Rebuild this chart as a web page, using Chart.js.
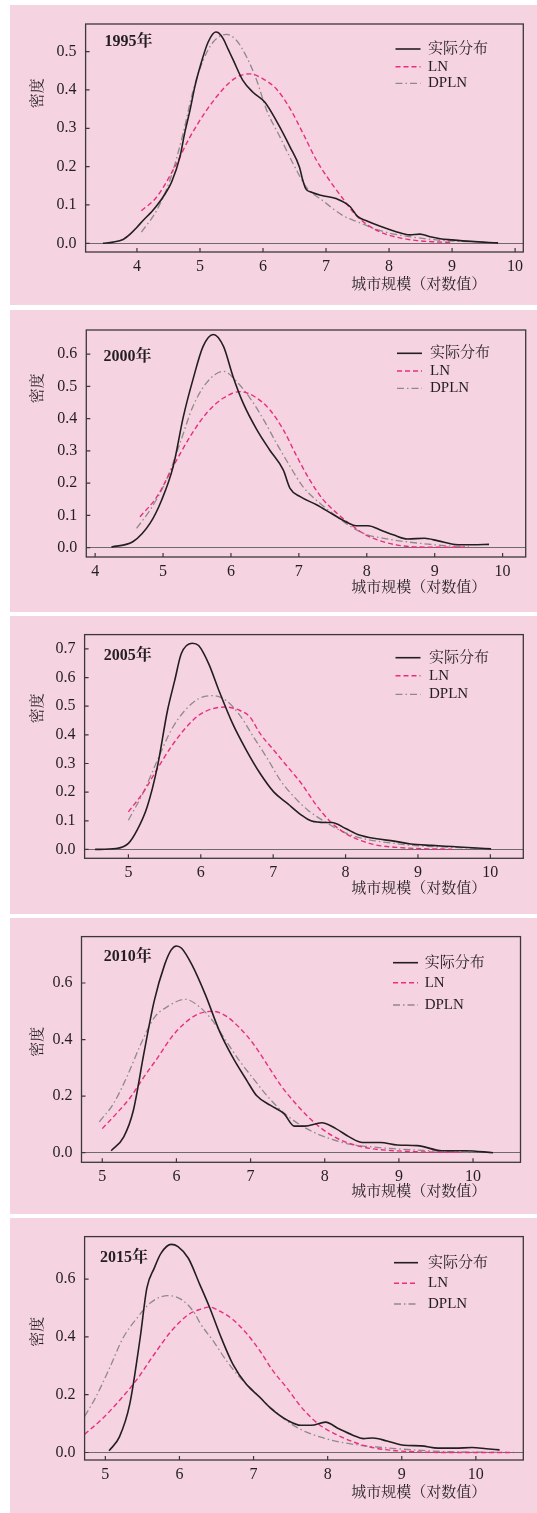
<!DOCTYPE html>
<html lang="zh">
<head>
<meta charset="UTF-8">
<title>城市规模分布</title>
<script src="https://cdn.jsdelivr.net/npm/chart.js"></script>
<style>
  html, body { margin: 0; padding: 0; background: #fff; }
  body { width: 537px; height: 1513px; position: relative; overflow: hidden; }
  .panel { position: absolute; left: 10px; width: 527px; background: #F6D3E0; }
  .panel canvas { display: block; }
</style>
</head>
<body>
<div class="panel" style="top:5px;height:300px"><canvas id="c1995" width="527" height="300"></canvas></div>
<div class="panel" style="top:310px;height:302px"><canvas id="c2000" width="527" height="302"></canvas></div>
<div class="panel" style="top:616px;height:298px"><canvas id="c2005" width="527" height="298"></canvas></div>
<div class="panel" style="top:918px;height:296px"><canvas id="c2010" width="527" height="296"></canvas></div>
<div class="panel" style="top:1218px;height:295px"><canvas id="c2015" width="527" height="295"></canvas></div>

<script>
// series names
const seriesNames = ['实际分布', 'LN', 'DPLN'];
const xTitle = '城市规模（对数值）';
const yTitle = '密度';

// [x, density]
const actual1995 = [[3.46,0],[3.62,0.003],[3.78,0.01],[3.9,0.025],[4.0,0.042],[4.1,0.06],[4.22,0.08],[4.31,0.097],[4.45,0.13],[4.55,0.16],[4.68,0.224],[4.76,0.29],[4.84,0.346],[4.92,0.41],[5.0,0.46],[5.13,0.525],[5.25,0.551],[5.3,0.548],[5.37,0.533],[5.45,0.505],[5.53,0.477],[5.68,0.425],[5.84,0.394],[6.03,0.368],[6.21,0.32],[6.43,0.251],[6.58,0.198],[6.63,0.165],[6.68,0.142],[6.77,0.133],[6.95,0.124],[7.17,0.116],[7.38,0.096],[7.5,0.07],[7.65,0.058],[7.85,0.045],[8.1,0.031],[8.33,0.022],[8.49,0.024],[8.65,0.017],[8.81,0.012],[9.0,0.009],[9.3,0.005],[9.73,0.001]];
const ln1995 = [[4.07,0.085],[4.31,0.12],[4.57,0.19],[4.84,0.277],[5.1,0.346],[5.37,0.403],[5.58,0.433],[5.79,0.442],[6.0,0.429],[6.21,0.403],[6.43,0.351],[6.64,0.285],[6.85,0.216],[7.06,0.163],[7.27,0.116],[7.47,0.074],[7.64,0.05],[7.85,0.03],[8.02,0.02],[8.24,0.012],[8.45,0.007],[8.7,0.004],[8.99,0.002]];
const dpln1995 = [[4.07,0.029],[4.31,0.085],[4.52,0.163],[4.73,0.285],[4.89,0.398],[5.05,0.477],[5.21,0.525],[5.42,0.545],[5.58,0.529],[5.74,0.486],[5.9,0.425],[6.06,0.346],[6.27,0.277],[6.48,0.207],[6.69,0.146],[6.95,0.111],[7.27,0.072],[7.53,0.054],[7.75,0.039],[8.02,0.026],[8.34,0.017],[8.67,0.01],[8.99,0.006],[9.3,0.004]];

const actual2000 = [[4.24,0.002],[4.56,0.019],[4.81,0.076],[4.98,0.148],[5.15,0.252],[5.3,0.407],[5.44,0.521],[5.59,0.624],[5.74,0.661],[5.89,0.624],[6.03,0.531],[6.18,0.448],[6.38,0.366],[6.57,0.303],[6.77,0.241],[6.87,0.184],[7.02,0.158],[7.26,0.133],[7.51,0.102],[7.73,0.076],[7.84,0.068],[8.02,0.068],[8.2,0.055],[8.4,0.039],[8.6,0.027],[8.85,0.029],[9.05,0.021],[9.3,0.01],[9.56,0.009],[9.8,0.01]];
const ln2000 = [[4.66,0.096],[4.91,0.158],[5.15,0.252],[5.4,0.345],[5.64,0.417],[5.89,0.464],[6.13,0.484],[6.38,0.464],[6.57,0.428],[6.77,0.366],[6.97,0.283],[7.16,0.21],[7.36,0.148],[7.56,0.107],[7.73,0.077],[7.99,0.039],[8.2,0.021],[8.45,0.008],[8.75,0.002],[9.5,0.001]];
const dpln2000 = [[4.61,0.06],[4.81,0.117],[5.05,0.21],[5.25,0.324],[5.44,0.438],[5.64,0.511],[5.89,0.547],[6.08,0.516],[6.28,0.464],[6.48,0.397],[6.67,0.324],[6.87,0.252],[7.06,0.189],[7.31,0.138],[7.56,0.096],[7.73,0.07],[7.99,0.041],[8.25,0.029],[8.55,0.019],[8.85,0.012],[9.15,0.006],[9.5,0.003]];

const actual2005 = [[4.54,0],[4.83,0.003],[5.0,0.021],[5.12,0.067],[5.26,0.149],[5.4,0.288],[5.54,0.485],[5.64,0.59],[5.73,0.683],[5.88,0.72],[5.97,0.712],[6.11,0.648],[6.25,0.555],[6.44,0.439],[6.63,0.346],[6.82,0.265],[7.01,0.2],[7.2,0.16],[7.39,0.12],[7.53,0.099],[7.72,0.094],[7.81,0.094],[8.0,0.073],[8.19,0.05],[8.43,0.037],[8.67,0.029],[8.9,0.019],[9.19,0.014],[9.47,0.01],[9.75,0.006],[10.01,0.002]];
const ln2005 = [[5.0,0.131],[5.21,0.201],[5.4,0.282],[5.59,0.358],[5.78,0.421],[5.97,0.468],[6.16,0.491],[6.35,0.497],[6.54,0.485],[6.68,0.462],[6.82,0.404],[7.01,0.346],[7.2,0.288],[7.39,0.23],[7.58,0.16],[7.77,0.102],[7.96,0.062],[8.19,0.033],[8.43,0.015],[8.71,0.007],[9.14,0.002],[9.47,0.001]];
const dpln2005 = [[5.0,0.102],[5.21,0.201],[5.4,0.311],[5.59,0.416],[5.78,0.485],[5.97,0.526],[6.16,0.537],[6.35,0.52],[6.54,0.468],[6.73,0.392],[6.92,0.317],[7.1,0.241],[7.29,0.183],[7.48,0.137],[7.72,0.096],[7.96,0.062],[8.19,0.041],[8.43,0.029],[8.67,0.021],[8.9,0.015],[9.19,0.01],[9.52,0.007],[9.85,0.003]];

const actual2010 = [[5.12,0.007],[5.29,0.056],[5.42,0.15],[5.56,0.349],[5.7,0.536],[5.84,0.664],[5.93,0.717],[6.0,0.731],[6.07,0.723],[6.21,0.664],[6.39,0.559],[6.58,0.43],[6.76,0.337],[6.95,0.255],[7.08,0.202],[7.27,0.167],[7.45,0.138],[7.59,0.094],[7.73,0.094],[7.96,0.106],[8.15,0.085],[8.33,0.056],[8.51,0.036],[8.75,0.036],[8.98,0.027],[9.25,0.025],[9.58,0.007],[9.9,0.007],[10.27,0]];
const ln2010 = [[5.0,0.085],[5.19,0.138],[5.38,0.196],[5.56,0.267],[5.75,0.337],[5.93,0.407],[6.12,0.46],[6.3,0.491],[6.49,0.5],[6.67,0.483],[6.85,0.442],[7.04,0.384],[7.22,0.313],[7.41,0.237],[7.59,0.179],[7.78,0.126],[7.96,0.085],[8.15,0.053],[8.38,0.029],[8.61,0.015],[8.93,0.007],[9.3,0.003],[9.85,0.001]];
const dpln2010 = [[4.96,0.109],[5.15,0.173],[5.33,0.267],[5.52,0.384],[5.7,0.477],[5.89,0.518],[6.12,0.542],[6.3,0.518],[6.49,0.466],[6.67,0.395],[6.85,0.325],[7.04,0.261],[7.22,0.202],[7.41,0.15],[7.64,0.103],[7.87,0.07],[8.1,0.047],[8.33,0.03],[8.61,0.021],[8.93,0.014],[9.25,0.009],[9.62,0.005],[9.99,0.002]];

const actual2015 = [[5.05,0.006],[5.19,0.054],[5.33,0.168],[5.47,0.397],[5.56,0.569],[5.66,0.638],[5.75,0.689],[5.89,0.72],[5.98,0.712],[6.12,0.672],[6.275,0.581],[6.41,0.5],[6.545,0.409],[6.72,0.306],[6.9,0.237],[7.085,0.191],[7.24,0.151],[7.46,0.111],[7.64,0.094],[7.78,0.094],[7.97,0.105],[8.15,0.082],[8.34,0.06],[8.48,0.048],[8.61,0.05],[8.8,0.04],[9.03,0.025],[9.26,0.023],[9.49,0.015],[9.72,0.015],[9.95,0.017],[10.14,0.013],[10.32,0.009]];
const ln2015 = [[4.72,0.063],[4.96,0.117],[5.19,0.18],[5.43,0.254],[5.66,0.34],[5.89,0.42],[6.12,0.477],[6.275,0.495],[6.41,0.503],[6.545,0.489],[6.72,0.46],[6.9,0.414],[7.085,0.352],[7.26,0.283],[7.445,0.225],[7.625,0.163],[7.78,0.12],[7.92,0.09],[8.11,0.063],[8.34,0.037],[8.57,0.019],[8.84,0.008],[9.21,0.002],[9.58,0],[10.51,0]];
const dpln2015 = [[4.72,0.125],[4.87,0.191],[5.06,0.294],[5.24,0.397],[5.43,0.466],[5.61,0.518],[5.84,0.543],[6.03,0.529],[6.21,0.48],[6.275,0.449],[6.455,0.386],[6.635,0.317],[6.815,0.26],[6.995,0.214],[7.175,0.168],[7.35,0.13],[7.5,0.1],[7.69,0.073],[7.92,0.052],[8.15,0.037],[8.38,0.027],[8.66,0.019],[8.94,0.013],[9.21,0.008],[9.58,0.003],[10.05,0.001],[10.42,0]];

// tick labels
const xTicks1995 = [4, 5, 6, 7, 8, 9, 10];
const yTicks1995 = [0, 0.1, 0.2, 0.3, 0.4, 0.5];
const xTicks2000 = [4, 5, 6, 7, 8, 9, 10];
const yTicks2000 = [0, 0.1, 0.2, 0.3, 0.4, 0.5, 0.6];
const xTicks2005 = [5, 6, 7, 8, 9, 10];
const yTicks2005 = [0, 0.1, 0.2, 0.3, 0.4, 0.5, 0.6, 0.7];
const xTicks2010 = [5, 6, 7, 8, 9, 10];
const yTicks2010 = [0, 0.2, 0.4, 0.6];
const xTicks2015 = [5, 6, 7, 8, 9, 10];
const yTicks2015 = [0, 0.2, 0.4, 0.6];

const AXIS = '#3b3839';
const SERIF = "'Liberation Serif', 'Noto Serif CJK SC', 'Noto Sans CJK SC', serif";

const styles = [
  { borderColor: '#231f20', borderWidth: 1.6, borderDash: [] },
  { borderColor: '#e5307f', borderWidth: 1.4, borderDash: [5, 3] },
  { borderColor: '#8e8a8c', borderWidth: 1.3, borderDash: [7, 3, 1.5, 3] }
];

// frame + inward tick marks, year label, legend and axis titles
const decor = {
  id: 'decor',
  afterDraw(chart, args, o) {
    const ctx = chart.ctx;
    const a = chart.chartArea;
    const sx = chart.scales.x, sy = chart.scales.y;
    ctx.save();
    ctx.strokeStyle = AXIS;
    ctx.lineWidth = 1.3;
    ctx.strokeRect(a.left, a.top, a.right - a.left, a.bottom - a.top);
    ctx.lineWidth = 1.2;
    ctx.beginPath();
    sx.ticks.forEach(t => {
      const px = sx.getPixelForValue(t.value);
      ctx.moveTo(px, a.bottom);
      ctx.lineTo(px, a.bottom - 4);
    });
    sy.ticks.forEach(t => {
      const py = sy.getPixelForValue(t.value);
      ctx.moveTo(a.left, py);
      ctx.lineTo(a.left + 4, py);
    });
    ctx.stroke();

    ctx.fillStyle = '#231f20';
    ctx.textBaseline = 'middle';
    ctx.font = 'bold 16px ' + SERIF;
    ctx.textAlign = 'left';
    ctx.fillText(o.year, o.yearX, o.yearY);

    ctx.font = '15px ' + SERIF;
    chart.data.datasets.forEach((ds, i) => {
      const y = o.rows[i];
      ctx.save();
      ctx.strokeStyle = ds.borderColor;
      ctx.lineWidth = ds.borderWidth;
      ctx.setLineDash(ds.borderDash);
      ctx.beginPath();
      ctx.moveTo(o.lx1, y);
      ctx.lineTo(o.lx2, y);
      ctx.stroke();
      ctx.restore();
      ctx.fillText(ds.label, o.tx, y);
    });

    ctx.textAlign = 'center';
    ctx.fillText(xTitle, o.xtX, o.xtY);
    ctx.translate(o.ytX, o.ytY);
    ctx.rotate(-Math.PI / 2);
    ctx.fillText(yTitle, 0, 0);
    ctx.restore();
  }
};

function makeChart(id, series, xt, yt, range, box, dec) {
  const datasets = series.map((pts, i) => Object.assign({
    label: seriesNames[i],
    data: pts.map(p => ({ x: p[0], y: p[1] })),
    pointRadius: 0,
    fill: false,
    cubicInterpolationMode: 'monotone'
  }, styles[i]));

  new Chart(document.getElementById(id), {
    type: 'line',
    data: { datasets: datasets },
    options: {
      responsive: false,
      animation: false,
      devicePixelRatio: 1,
      events: [],
      layout: {
        autoPadding: false,
        padding: { left: 0, top: box.top, right: box.right, bottom: 0 }
      },
      scales: {
        x: {
          type: 'linear',
          min: range[0], max: range[1],
          afterBuildTicks: s => { s.ticks = xt.map(v => ({ value: v })); },
          afterFit: s => { s.height = box.xh; },
          border: { display: false },
          grid: { drawOnChartArea: false, drawTicks: false },
          ticks: { color: '#231f20', padding: 5, font: { family: SERIF, size: 16 }, callback: v => String(v) }
        },
        y: {
          min: range[2], max: range[3],
          afterBuildTicks: s => { s.ticks = yt.map(v => ({ value: v })); },
          afterFit: s => { s.width = box.yw; },
          border: { display: false },
          grid: {
            drawTicks: false,
            color: c => (c.tick && c.tick.value === 0) ? '#6f6a6c' : 'rgba(0,0,0,0)',
            lineWidth: 1
          },
          ticks: { color: '#231f20', padding: 9, font: { family: SERIF, size: 16 }, callback: v => v.toFixed(1) }
        }
      },
      plugins: {
        legend: { display: false },
        tooltip: { enabled: false },
        decor: dec
      }
    },
    plugins: [decor]
  });
}

makeChart('c1995', [actual1995, ln1995, dpln1995], xTicks1995, yTicks1995,
  [3.185, 10.13, -0.0227, 0.572],
  { top: 19, right: 13.7, xh: 53, yw: 75.6 },
  { year: '1995年', yearX: 94.5, yearY: 36.7, lx1: 385.5, lx2: 410.5, tx: 418, rows: [44, 61.7, 78.3],
    xtX: 408.7, xtY: 280, ytX: 27.7, ytY: 88.3 });

makeChart('c2000', [actual2000, ln2000, dpln2000], xTicks2000, yTicks2000,
  [3.87, 10.34, -0.029, 0.675],
  { top: 20, right: 11.3, xh: 55, yw: 76.3 },
  { year: '2000年', yearX: 93.4, yearY: 46.7, lx1: 387, lx2: 412, tx: 420, rows: [43.3, 61, 78.3],
    xtX: 408.7, xtY: 278.3, ytX: 27.7, ytY: 78.3 });

makeChart('c2005', [actual2005, ln2005, dpln2005], xTicks2005, yTicks2005,
  [4.395, 10.455, -0.031, 0.75],
  { top: 18, right: 13.7, xh: 55.7, yw: 74.6 },
  { year: '2005年', yearX: 93.8, yearY: 39.7, lx1: 385.5, lx2: 410.5, tx: 419, rows: [41.7, 59.7, 78.3],
    xtX: 408.7, xtY: 273.3, ytX: 27.7, ytY: 92.3 });

makeChart('c2010', [actual2010, ln2010, dpln2010], xTicks2010, yTicks2010,
  [4.72, 10.64, -0.034, 0.764],
  { top: 17, right: 16.5, xh: 51.7, yw: 71.5 },
  { year: '2010年', yearX: 93.8, yearY: 38.7, lx1: 383, lx2: 408, tx: 414.7, rows: [44.7, 64.7, 87],
    xtX: 408.7, xtY: 273.7, ytX: 27.7, ytY: 123.7 });

makeChart('c2015', [actual2015, ln2015, dpln2015], xTicks2015, yTicks2015,
  [4.72, 10.64, -0.026, 0.747],
  { top: 17, right: 13.7, xh: 53, yw: 74.6 },
  { year: '2015年', yearX: 90, yearY: 40.3, lx1: 384, lx2: 408, tx: 418, rows: [44.7, 65.3, 86],
    xtX: 408.7, xtY: 275.3, ytX: 27.7, ytY: 113.7 });
</script>
</body>
</html>
